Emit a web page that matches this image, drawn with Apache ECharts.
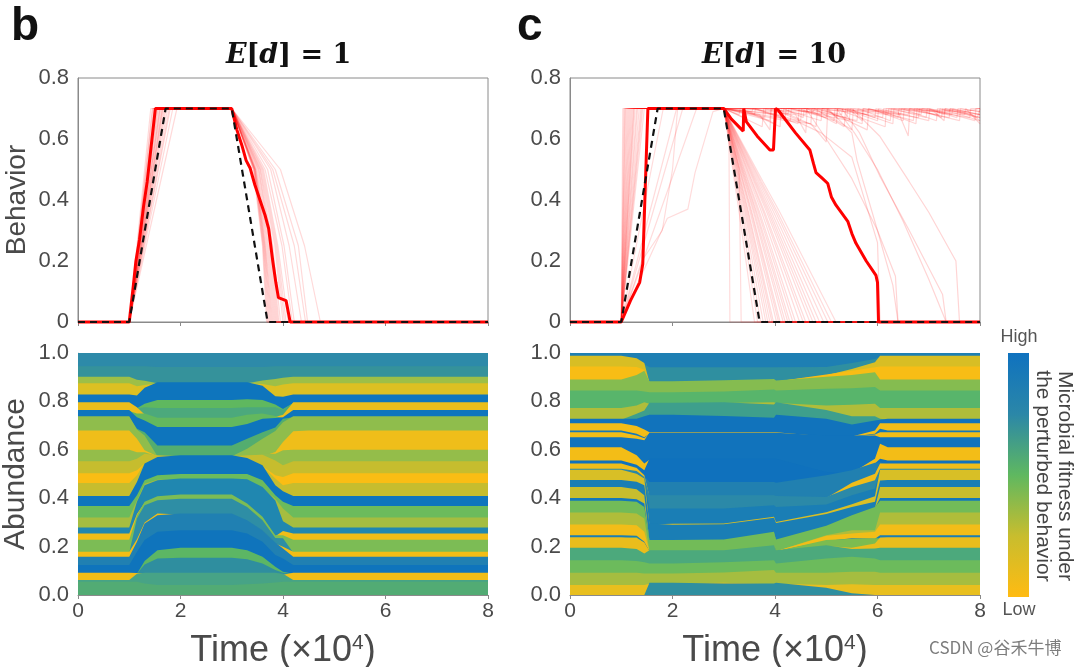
<!DOCTYPE html>
<html><head><meta charset="utf-8">
<script src="https://cdn.jsdelivr.net/npm/echarts@6/dist/echarts.min.js"></script>
<style>html,body{margin:0;padding:0;background:#fff}#c{width:1080px;height:667px}</style>
</head><body><div id="c"></div>
<script>
const xTicks=[0,2,4,6,8];
const timesB=[0,1,1.15,1.3,1.55,2,3,3.3,3.6,3.85,4,4.2,4.5,8];
const coloursB=['#2d8aa9','#35929b','#9dbf47','#dcc022','#0e75bd','#5fb85f','#4ca97c','#ebbe1c','#63b85e','#0e75bd','#53ad6f','#8fbd4c','#efbe1a','#94bd4a','#c6bd2e','#fabd14','#c6bd2e','#0e75bd','#6cbb5c','#a5bd40','#2087b0','#f0bd18','#7cbc55','#2e8ea5','#f3bd16','#2080b2','#0f74bc','#5cb664','#2f8e9f','#f0bd18','#47a386','#52ab74'];
const topsB=[
[1,1,1,1,1,1,1,1,1,1,1,1,1,1],
[.945,.945,.945,.945,.942,.942,.942,.942,.942,.945,.945,.945,.945,.945],
[.902,.902,.889,.885,.879,.879,.879,.879,.886,.893,.898,.902,.902,.902],
[.875,.875,.863,.868,.879,.879,.879,.879,.872,.863,.870,.875,.875,.875],
[.828,.828,.824,.856,.879,.879,.879,.879,.865,.821,.819,.828,.828,.828],
[.797,.797,.776,.790,.806,.806,.806,.809,.806,.787,.769,.797,.797,.797],
[.797,.797,.776,.776,.773,.773,.773,.776,.776,.776,.766,.797,.797,.797],
[.797,.797,.776,.750,.732,.732,.732,.745,.750,.740,.745,.797,.797,.797],
[.764,.764,.750,.750,.732,.732,.732,.745,.750,.740,.734,.764,.764,.764],
[.764,.764,.735,.721,.694,.694,.694,.707,.728,.731,.734,.764,.764,.764],
[.739,.739,.687,.673,.618,.618,.618,.646,.673,.692,.728,.739,.739,.739],
[.739,.739,.684,.659,.577,.577,.577,.604,.646,.678,.714,.739,.739,.739],
[.680,.680,.646,.598,.577,.577,.577,.577,.577,.591,.632,.677,.680,.680],
[.600,.600,.590,.590,.577,.577,.577,.577,.584,.584,.598,.600,.600,.600],
[.553,.553,.563,.584,.577,.577,.577,.577,.580,.556,.536,.553,.553,.553],
[.503,.503,.515,.547,.570,.577,.577,.566,.536,.495,.488,.503,.503,.503],
[.463,.463,.495,.547,.570,.577,.577,.566,.536,.481,.453,.463,.463,.463],
[.409,.409,.467,.543,.570,.577,.577,.566,.536,.453,.429,.409,.409,.409],
[.368,.368,.412,.474,.495,.500,.500,.500,.474,.412,.385,.368,.368,.368],
[.320,.320,.390,.460,.476,.481,.481,.478,.446,.398,.357,.320,.320,.320],
[.279,.279,.385,.453,.474,.481,.481,.478,.446,.390,.305,.279,.279,.279],
[.254,.254,.335,.385,.408,.415,.415,.378,.323,.247,.264,.254,.254,.254],
[.228,.228,.330,.385,.408,.415,.415,.378,.323,.247,.247,.228,.228,.228],
[.179,.179,.316,.371,.392,.398,.398,.364,.309,.236,.234,.179,.179,.179],
[.179,.179,.230,.300,.337,.337,.337,.309,.268,.217,.199,.179,.179,.179],
[.158,.158,.220,.295,.330,.337,.337,.309,.268,.217,.192,.158,.158,.158],
[.124,.124,.179,.227,.261,.268,.268,.254,.220,.165,.151,.124,.124,.124],
[.092,.092,.092,.140,.185,.195,.195,.185,.158,.117,.096,.092,.092,.092],
[.092,.092,.092,.126,.151,.154,.154,.148,.130,.103,.092,.092,.092,.092],
[.092,.092,.091,.092,.092,.092,.092,.092,.092,.092,.088,.092,.092,.092],
[.062,.062,.088,.092,.092,.092,.092,.092,.092,.092,.088,.062,.062,.062],
[.055,.055,.055,.048,.041,.041,.041,.044,.048,.052,.055,.055,.055,.055]];
const timesC=[0,1,1.3,1.45,1.55,2,3,3.98,4.02,5,5.5,5.95,6.05,6.2,8];
const coloursC=['#1e7fb3','#2f8fa0','#d8be24','#f8bd15','#85bc50','#58b56b','#b0bd3a','#3e9f8c','#1173bc','#f2bd18','#1478ba','#f2bd18','#1173bc','#f3bd17','#0f71bd','#2180b0','#f0bd19','#2b89a8','#1a7eb5','#d8bf26','#1a7eb5','#c8bd2e','#1478ba','#72bb58','#b0bd3a','#f2bd18','#1a7eb5','#7cbc50','#eabd1c','#4ca97c','#6cbb5c','#a5bd40','#e8bf1e','#2f8fa0'];
const topsC=[
[1,1,1,1,1,1,1,1,1,1,1,1,1,1,1],
[.989,.989,.978,.959,.941,.941,.941,.941,.941,.942,.959,.975,.989,.989,.989],
[.989,.989,.978,.959,.883,.883,.887,.889,.886,.912,.934,.962,.989,.989,.989],
[.944,.944,.942,.931,.883,.883,.887,.889,.886,.911,.927,.941,.944,.944,.944],
[.890,.890,.909,.927,.883,.883,.887,.893,.886,.902,.909,.920,.890,.890,.890],
[.845,.845,.845,.841,.838,.838,.841,.849,.845,.852,.854,.859,.845,.845,.845],
[.773,.773,.783,.797,.794,.794,.797,.797,.797,.783,.786,.790,.773,.773,.773],
[.728,.728,.749,.762,.794,.794,.797,.787,.797,.764,.739,.739,.728,.728,.728],
[.728,.728,.728,.739,.745,.745,.740,.732,.745,.728,.705,.721,.724,.728,.728],
[.710,.710,.698,.684,.673,.673,.673,.673,.673,.659,.659,.680,.710,.710,.710],
[.680,.680,.666,.652,.670,.670,.670,.670,.670,.659,.659,.666,.687,.680,.680],
[.673,.673,.659,.648,.670,.670,.670,.670,.670,.659,.659,.663,.673,.673,.673],
[.652,.652,.646,.639,.670,.670,.670,.670,.670,.659,.659,.659,.652,.652,.652],
[.611,.611,.577,.543,.563,.563,.563,.563,.563,.508,.508,.563,.625,.611,.611],
[.556,.556,.538,.515,.563,.563,.563,.563,.563,.508,.508,.547,.563,.556,.556],
[.543,.543,.529,.495,.467,.467,.467,.467,.464,.495,.515,.547,.549,.543,.543],
[.543,.543,.525,.495,.412,.412,.412,.412,.409,.405,.464,.501,.543,.543,.543],
[.522,.522,.512,.488,.412,.412,.412,.412,.409,.405,.446,.474,.522,.522,.522],
[.518,.518,.504,.481,.357,.357,.357,.371,.364,.374,.412,.440,.518,.518,.518],
[.518,.518,.501,.481,.295,.294,.295,.323,.302,.342,.375,.408,.518,.518,.518],
[.475,.475,.468,.453,.295,.290,.292,.319,.298,.335,.364,.385,.473,.475,.475],
[.446,.446,.437,.412,.227,.227,.229,.261,.229,.286,.330,.364,.446,.446,.446],
[.401,.401,.396,.378,.227,.227,.229,.261,.229,.286,.330,.364,.401,.401,.401],
[.389,.389,.385,.364,.227,.227,.229,.261,.229,.286,.330,.364,.389,.389,.389],
[.341,.341,.337,.316,.185,.185,.185,.206,.185,.247,.268,.268,.341,.341,.341],
[.291,.291,.288,.261,.185,.185,.185,.206,.185,.245,.254,.261,.291,.291,.291],
[.247,.247,.245,.220,.185,.185,.185,.206,.185,.227,.234,.236,.247,.247,.247],
[.239,.239,.239,.217,.185,.185,.185,.206,.185,.227,.232,.234,.239,.239,.239],
[.239,.239,.236,.217,.185,.185,.185,.206,.185,.206,.195,.213,.238,.239,.239],
[.195,.195,.190,.172,.185,.185,.185,.206,.185,.206,.190,.192,.195,.195,.195],
[.144,.144,.141,.135,.130,.130,.135,.144,.130,.151,.158,.151,.144,.144,.144],
[.092,.092,.092,.089,.089,.089,.093,.103,.092,.092,.096,.096,.092,.092,.092],
[.041,.041,.041,.041,.051,.051,.051,.048,.051,.041,.044,.041,.041,.041,.041],
[0,0,0,0,.051,.051,.048,.048,.051,.030,.007,0,0,0,0]];
const referenceLine=[[0,0],[1,0],[1.71,.7],[3,.7],[3.7,0],[8,0]];
const boldB=[[0,0],[1,0],[1.08,.12],[1.13,.2],[1.2,.27],[1.28,.38],[1.35,.46],[1.43,.58],[1.51,.7],[3,.7],[3.1,.63],[3.2,.578],[3.28,.53],[3.36,.504],[3.45,.45],[3.56,.395],[3.65,.35],[3.72,.306],[3.8,.2],[3.86,.13],[3.91,.08],[4.06,.07],[4.14,0],[8,0]];
const boldC=[[0,0],[1,0],[1.18,.07],[1.36,.13],[1.42,.19],[1.47,.45],[1.52,.7],[3,.7],[3.15,.665],[3.38,.626],[3.39,.7],[3.44,.657],[3.65,.61],[3.9,.564],[3.97,.564],[4.01,.7],[4.06,.695],[4.4,.62],[4.68,.564],[4.75,.52],[4.8,.49],[4.93,.47],[5.03,.454],[5.1,.41],[5.19,.383],[5.42,.33],[5.5,.29],[5.58,.258],[5.78,.2],[5.97,.153],[6,.13],[6.02,0],[8,0]];
const risesB=[1.42,1.45,1.46,1.48,1.5,1.52,1.53,1.55,1.56,1.58,1.6,1.6,1.62,1.64,1.65,1.66,1.68,1.7,1.72,1.75,1.78,1.8,1.85,1.93];
const fallsB=[[3.42,3.6,3.68],[3.43,3.61,3.7],[3.44,3.62,3.72],[3.44,3.63,3.74],[3.45,3.64,3.76],[3.45,3.65,3.78],[3.46,3.66,3.8],[3.46,3.68,3.82],[3.47,3.7,3.84],[3.48,3.72,3.86],[3.5,3.74,3.88],[3.52,3.76,3.9],[3.53,3.78,3.92],[3.55,3.8,3.95],[3.56,3.84,4],[3.58,3.86,4.03],[3.6,3.88,4.06],[3.62,3.9,4.1],[3.65,3.98,4.18],[3.7,4.02,4.22],[3.76,4.12,4.36],[3.8,4.22,4.44],[3.85,4.3,4.48],[3.95,4.42,4.73]];
const risesC=[1.03,1.05,1.07,1.08,1.1,1.12,1.14,1.16,1.18,1.2,1.22,1.24,1.25,1.27,1.3,1.32,1.35,1.38,1.4,1.42,1.45,1.82,2.08,2.2,2.47];
const lateRiseA=[[0,0],[1,0],[1.36,.14],[1.9,.34],[2.3,.37],[2.44,.49],[2.79,.69],[3,.7],[3.1,.66],[3.12,0],[8,0]];
const lateRiseB=[[0,0],[1,0],[1.4,.2],[1.8,.3],[2,.5],[2.1,.7],[3,.7],[3.3,.5],[3.34,0],[8,0]];
const fallEndsC=[3.6,3.66,3.72,3.77,3.82,3.86,3.9,3.94,3.97,4.03,4.07,4.1,4.16,4.2,4.25,4.29,4.35,4.4,4.48,4.55,4.6,4.68,4.74,4.8,4.87,4.95,5.03,5.1,5.19];
const flatTopsC=[
[[3,.7],[3.6,.68],[3.62,.7],[4.3,.66],[4.32,.7],[5,.67],[5.02,.7],[6,.69],[6.5,.66],[6.52,.7],[7.4,.67],[7.42,.7],[8,.68]],
[[3,.7],[3.5,.69],[4,.65],[4.02,.7],[4.8,.64],[4.83,.7],[5.7,.65],[5.72,.7],[6.6,.68],[6.62,.7],[7.6,.66],[7.62,.7],[8,.69]],
[[3,.7],[3.4,.67],[3.42,.7],[4.4,.68],[4.6,.62],[4.63,.7],[5.4,.67],[5.42,.7],[6.3,.65],[6.32,.7],[7.2,.68],[7.22,.7],[8,.66]],
[[3,.7],[3.3,.68],[3.32,.7],[4.1,.64],[4.12,.7],[4.9,.66],[4.92,.7],[5.8,.63],[5.83,.7],[6.7,.66],[6.72,.7],[7.8,.67],[7.82,.7],[8,.7]],
[[3,.7],[3.8,.67],[3.82,.7],[4.6,.68],[4.62,.7],[5.2,.65],[5.22,.7],[6.1,.67],[6.12,.7],[7.1,.69],[7.3,.66],[7.32,.7],[8,.67]],
[[3,.7],[3.6,.7],[4.2,.67],[4.22,.7],[5,.68],[5.5,.63],[5.53,.7],[6.4,.69],[6.6,.61],[6.63,.7],[7.7,.68],[7.72,.7],[8,.65]],
[[3,.7],[4,.68],[4.7,.65],[4.72,.7],[5.3,.68],[5.32,.7],[6,.66],[6.02,.7],[7,.66],[7.02,.7],[7.9,.66],[7.92,.7],[8,.7]],
[[3,.7],[3.7,.68],[3.9,.63],[3.93,.7],[4.5,.66],[4.52,.7],[5.5,.69],[5.7,.66],[5.72,.7],[6.8,.67],[6.82,.7],[7.6,.69],[8,.68]],
[[3,.7],[4.4,.7],[4.9,.68],[4.92,.7],[5.8,.68],[5.82,.7],[6.4,.67],[6.42,.7],[7.4,.69],[7.42,.7],[8,.67]],
[[3,.7],[3.9,.66],[3.92,.7],[5,.7],[5.2,.67],[5.22,.7],[6.2,.68],[6.22,.7],[7,.7],[7.3,.68],[7.32,.7],[7.7,.69],[8,.7]],
[[3,.7],[4.15,.68],[4.17,.7],[4.55,.67],[4.57,.7],[5.6,.66],[5.62,.7],[6.25,.66],[6.27,.7],[6.95,.67],[6.97,.7],[7.55,.67],[7.57,.7],[8,.69]],
[[3,.7],[3.55,.69],[3.57,.7],[4.45,.65],[4.47,.7],[5.15,.66],[5.17,.7],[6.15,.64],[6.17,.7],[6.85,.68],[6.87,.7],[7.45,.68],[7.47,.7],[8,.68]],
[[3,.7],[4.75,.69],[4.77,.7],[5.35,.64],[5.38,.7],[5.95,.67],[5.97,.7],[6.75,.65],[6.77,.7],[7.25,.67],[7.27,.7],[7.95,.67],[8,.7]],
[[3,.7],[3.75,.64],[3.78,.7],[4.25,.68],[4.27,.7],[5.45,.66],[5.47,.7],[6.45,.68],[6.47,.7],[7.15,.66],[7.17,.7],[7.85,.68],[8,.66]]];
const lateFallsC=[
[[3,.7],[4.2,.66],[4.7,.65],[5,.59],[5.03,.7],[5.5,.62],[5.6,.53],[6,.3],[6.35,.15],[6.4,0],[8,0]],
[[3,.7],[4.6,.7],[5,.6],[5.5,.47],[6,.3],[6.3,.12],[6.4,0],[8,0]],
[[3,.7],[5.3,.7],[5.65,.62],[6.04,.48],[6.62,.3],[7.27,.09],[7.34,0],[8,0]],
[[3,.7],[5.5,.7],[6.04,.61],[6.62,.46],[7,.36],[7.53,.2],[7.6,0],[8,0]],
[[3,.7],[5.2,.7],[5.55,.62],[6,.5],[6.5,.33],[7,.14],[7.34,0],[8,0]],
[[3,.7],[4.4,.66],[4.9,.62],[5.5,.54],[6,.26],[6.05,0],[8,0]]];

const grids=[{left:78,width:410,top:78,height:244,show:true,borderColor:'#8a8a8a',borderWidth:1,outerBoundsMode:'none'},{left:78,width:410,top:353,height:242,outerBoundsMode:'none'},{left:570,width:410,top:78,height:244,show:true,borderColor:'#8a8a8a',borderWidth:1,outerBoundsMode:'none'},{left:570,width:410,top:353,height:242,outerBoundsMode:'none'}];
const fontName='"Liberation Sans",Arial,sans-serif', axisGrey='#8a8a8a', textGrey='#4a4a4a';
function xAxis(i,labels){return {gridIndex:i,type:'value',min:0,max:8,interval:2,
  axisLine:{show:true,lineStyle:{color:axisGrey,width:1}},axisTick:{show:true,length:4,lineStyle:{color:axisGrey}},splitLine:{show:false},
  axisLabel:{show:labels,fontFamily:fontName,fontSize:21,color:textGrey,margin:6},
  name:labels?'{a|Time (×10}{b|4}{a|)}':'',nameLocation:'middle',nameGap:38,
  nameTextStyle:{rich:{a:{fontFamily:fontName,fontSize:36,color:textGrey},b:{fontFamily:fontName,fontSize:21,color:textGrey,verticalAlign:'top',padding:[0,0,16,0]}}}}}
function yAxis(i,max,interval,name,size){return {gridIndex:i,type:'value',min:0,max:max,interval:interval,
  axisLine:{show:true,lineStyle:{color:max===1?'#b9d8de':axisGrey}},axisTick:{show:false},splitLine:{show:false},
  axisLabel:{fontFamily:fontName,fontSize:22,color:textGrey,margin:9,formatter:v=>(max<1&&v===0)?'0':v.toFixed(1)},
  name:name,nameLocation:'middle',nameGap:47,nameTextStyle:{fontFamily:fontName,fontSize:size||28,color:textGrey}}}
const series=[];
function bands(times,tops,colours,idx){tops.forEach((row,j)=>{const next=tops[j+1];series.push({type:'line',xAxisIndex:idx,yAxisIndex:idx,silent:true,showSymbol:false,animation:false,
  lineStyle:{width:0},areaStyle:{color:colours[j],opacity:1,origin:'start'},
  data:row.map((v,k)=>[times[k],(next&&v-next[k]<.002)?v-.004:v])})})}
function redLine(idx,data,width,op){series.push({type:'line',xAxisIndex:idx,yAxisIndex:idx,silent:true,showSymbol:false,animation:false,clip:false,
  lineStyle:{color:'#ff0000',width:width,opacity:op},data:data})}
bands(timesB,topsB,coloursB,1);bands(timesC,topsC,coloursC,3);
risesB.forEach((r,i)=>{const f=fallsB[i];redLine(0,[[0,0],[1,0],[r,.7],[3,.7],[f[0],.5],[f[1],.25],[f[2],0],[8,0]],1.2,.15)});
risesC.forEach((r,i)=>{const e=fallEndsC[i];redLine(2,[[0,0],[1,0],[r,.7],[3,.7],[3+(e-3)*.35,.46],[3+(e-3)*.5,.36],[e,0],[8,0]],1.2,.14)});
fallEndsC.slice(25).forEach(e=>{redLine(2,[[3,.7],[3+(e-3)*.35,.46],[3+(e-3)*.5,.36],[e,0]],1.2,.14)});
redLine(2,lateRiseA,1.2,.14);redLine(2,lateRiseB,1.2,.14);
flatTopsC.forEach(d=>redLine(2,d,1.2,.17));
lateFallsC.forEach(d=>redLine(2,d,1.2,.17));
redLine(0,boldB,3,1);redLine(2,boldC,3,1);
[0,2].forEach(i=>series.push({type:'line',xAxisIndex:i,yAxisIndex:i,silent:true,showSymbol:false,animation:false,clip:false,
  lineStyle:{color:'#111',width:2.2,type:[7,5]},data:referenceLine}));

const chart=echarts.init(document.getElementById('c'),null,{renderer:'canvas'});
const titleRich={i:{fontFamily:'"DejaVu Serif",serif',fontSize:27,fontWeight:'bold',fontStyle:'italic',color:'#111'},r:{fontFamily:'"DejaVu Serif",serif',fontSize:27,fontWeight:'bold',color:'#111'}};
chart.setOption({backgroundColor:'#fff',animation:false,grid:grids,
 xAxis:[xAxis(0,false),xAxis(1,true),xAxis(2,false),xAxis(3,true)],
 yAxis:[yAxis(0,.8,.2,'Behavior',28),yAxis(1,1,.2,'Abundance',30),yAxis(2,.8,.2,''),yAxis(3,1,.2,'')],
 series:series,
 title:[
  {text:'b',left:6,top:-1,textStyle:{fontFamily:fontName,fontSize:46,fontWeight:'bold',color:'#111'}},
  {text:'c',left:512,top:-1,textStyle:{fontFamily:fontName,fontSize:46,fontWeight:'bold',color:'#111'}},
  {text:'{i|E}{r|[}{i|d}{r|] = 1}',left:221,top:37,textStyle:{rich:titleRich}},
  {text:'{i|E}{r|[}{i|d}{r|] = 10}',left:697,top:37,textStyle:{rich:titleRich}}],
 graphic:[
  {type:'rect',shape:{x:1008,y:353,width:21,height:244},style:{fill:new echarts.graphic.LinearGradient(0,0,0,1,[{offset:0,color:'#0f72bf'},{offset:.25,color:'#2b87a8'},{offset:.5,color:'#5fb860'},{offset:.75,color:'#c8bd2e'},{offset:1,color:'#ffbb12'}])}},
  {type:'text',x:1019,y:337,style:{text:'High',fontFamily:fontName,fontSize:18,fill:'#555',align:'center',verticalAlign:'middle'}},
  {type:'text',x:1019,y:610,style:{text:'Low',fontFamily:fontName,fontSize:18,fill:'#555',align:'center',verticalAlign:'middle'}},
  {type:'text',x:1065,y:476,rotation:-Math.PI/2,style:{text:'Microbial fitness under',fontFamily:fontName,fontSize:21,fill:'#444',align:'center',verticalAlign:'middle'}},
  {type:'text',x:1043,y:476,rotation:-Math.PI/2,style:{text:'the perturbed behavior',fontFamily:fontName,fontSize:21,fill:'#444',align:'center',verticalAlign:'middle'}},
  {type:'text',x:929,y:648,style:{text:'CSDN @谷禾牛博',fontFamily:'"Noto Sans CJK SC",'+fontName,fontSize:17,fill:'#7d7d7d',verticalAlign:'middle'}}]
});
</script></body></html>
